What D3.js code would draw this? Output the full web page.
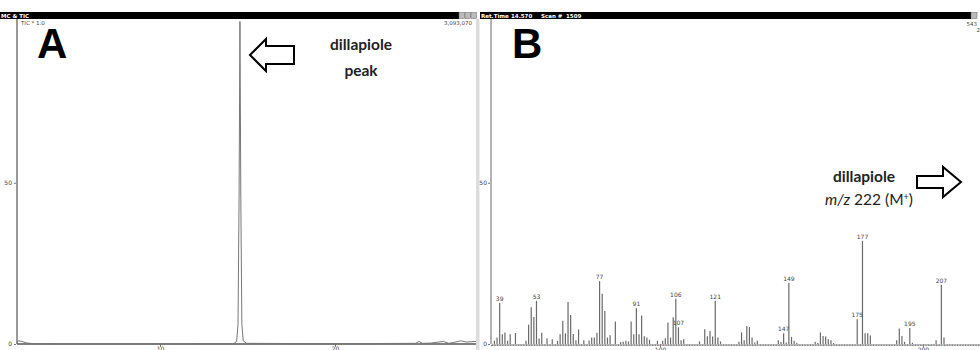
<!DOCTYPE html>
<meta charset="utf-8">
<script src="https://d3js.org/d3.v7.min.js"></script>
<style>
  body { margin: 0; background: #fff; }
  .tick text { font-family: 'DejaVu Sans', sans-serif; font-size: 6px; fill: #444; }
  .tick line { stroke: #777; }
  .small { font-family: 'DejaVu Sans', sans-serif; font-size: 6px; fill: #444; }
  .bar { font-family: 'DejaVu Sans', sans-serif; font-size: 5.5px; font-weight: bold; fill: #fff; }
  .note { font-family: 'Lato', sans-serif; font-size: 15.5px; fill: #222; }
</style>
<body>
<div id="chart"></div>
<script>

// TIC chromatogram (panel A), time in minutes, intensity in %
var ticTime = [1.83, 1.9, 2.1, 2.4, 2.8, 5, 10, 14.2, 14.38, 14.46, 14.52, 14.57, 14.62, 14.68, 14.76, 14.95, 20, 24.6, 24.8, 25.0, 25.5, 26.2, 26.5, 26.8, 27.2, 27.5, 28.06];
var ticValue = [0.3, 1.0, 0.8, 0.3, 0.1, 0.05, 0.05, 0.1, 0.8, 6, 45, 100, 45, 6, 1.0, 0.2, 0.1, 0.2, 0.8, 0.2, 0.3, 0.8, 0.2, 0.5, 1.0, 0.6, 0.8];

// mass spectrum (panel B), m/z and relative abundance in %
var mz = [37,38,39,40,41,42,43,45,49,50,51,52,53,54,55,57,59,61,62,63,64,65,66,67,68,69,71,73,74,75,76,77,78,79,80,81,83,85,86,87,88,89,90,91,92,93,94,95,96,99,101,102,103,104,105,106,107,108,109,115,117,118,119,120,121,122,123,130,131,132,133,134,135,136,137,145,146,147,148,149,150,151,152,159,160,161,162,163,164,165,166,175,177,178,179,180,190,191,192,193,195,196,205,207,208];
var abundance = [1.0,2.0,12.7,3.0,3.6,1.0,3.0,3.4,1.0,6.0,11.4,8.4,13.4,1.7,3.5,1.8,1.5,1.0,3.0,7.2,3.3,13.0,9.0,3.1,1.2,4.5,1.2,1.1,2.0,2.0,3.5,19.5,15.6,10.2,2.0,2.7,7.0,0.6,0.7,1.0,0.8,7.0,3.0,11.1,3.0,8.8,2.4,2.0,1.3,1.0,1.0,1.8,6.7,2.0,8.3,14.0,5.2,1.2,1.5,0.8,4.6,2.4,4.0,2.3,13.4,2.0,0.8,0.7,3.6,1.2,5.6,5.3,2.0,0.5,1.0,1.2,0.6,3.3,0.5,19.0,2.2,1.0,0.4,0.7,0.3,3.6,2.5,2.3,1.5,1.2,0.3,7.7,32.0,3.3,3.3,2.6,1.2,4.8,2.5,0.7,5.0,0.4,1.2,18.4,2.0];
var labelled = [39, 53, 77, 91, 106, 107, 121, 147, 149, 175, 177, 195, 207];

var yTicks = [0, 50];
var timeTicks = [10, 20];
var mzTicks = [100, 200];

var W = 980, H = 350;
var svg = d3.select("#chart").append("svg")
  .attr("width", W).attr("height", H);

// scales
var xT = d3.scaleLinear().domain([1.83, 28.06]).range([17, 476]);
var xM = d3.scaleLinear().domain([35.7, 221.7]).range([491, 980]);
var y = d3.scaleLinear().domain([0, 100]).range([344, 21.5]);

// title bars
svg.append("rect").attr("x", 0).attr("y", 12).attr("width", 459).attr("height", 7).attr("fill", "#000");
svg.append("rect").attr("x", 480).attr("y", 12).attr("width", 491).attr("height", 7).attr("fill", "#000");
[459, 465, 471].forEach(function(bx) {
  svg.append("rect").attr("x", bx).attr("y", 12.5).attr("width", 5.5).attr("height", 6)
    .attr("fill", "#bbb").attr("stroke", "#666").attr("stroke-width", 0.5);
});
svg.append("rect").attr("x", 971).attr("y", 12.5).attr("width", 6).attr("height", 6)
  .attr("fill", "#bbb").attr("stroke", "#666").attr("stroke-width", 0.5);
svg.append("text").attr("class", "bar").attr("x", 1).attr("y", 17.5).text("MC & TIC");
svg.append("text").attr("class", "bar").attr("x", 481).attr("y", 17.5).text("Ret.Time");
svg.append("text").attr("class", "bar").attr("x", 511).attr("y", 17.5).text("14.570");
svg.append("text").attr("class", "bar").attr("x", 541).attr("y", 17.5).text("Scan #");
svg.append("text").attr("class", "bar").attr("x", 566).attr("y", 17.5).text("1509");

// grey separator strip
svg.append("rect").attr("x", 476).attr("y", 19).attr("width", 3.5).attr("height", 331).attr("fill", "#ddd");

// panel A
svg.append("text").attr("class", "small").attr("x", 21).attr("y", 24.5).style("font-size", "5.5px").text("TIC * 1.0");
svg.append("text").attr("class", "small").attr("x", 472).attr("y", 25).style("font-size", "5.5px")
  .attr("text-anchor", "end").text("3,093,070");

var axL = svg.append("g").attr("transform", "translate(16,0)")
  .call(d3.axisLeft(y).tickValues(yTicks).tickSize(2).tickPadding(2));
axL.select(".domain").remove();
svg.append("line").attr("x1", 17).attr("x2", 17).attr("y1", 19).attr("y2", 344)
  .attr("stroke", "#999").attr("stroke-width", 2);

var axB = svg.append("g").attr("transform", "translate(0,344)")
  .call(d3.axisBottom(xT).tickValues(timeTicks).tickSize(3).tickPadding(0));
axB.select(".domain").remove();
svg.append("line").attr("x1", 17).attr("x2", 476).attr("y1", 344).attr("y2", 344)
  .attr("stroke", "#555").attr("stroke-width", 1.5);

var tic = ticTime.map(function(t, i) { return [t, ticValue[i]]; });
svg.append("path").datum(tic)
  .attr("fill", "none").attr("stroke", "#777").attr("stroke-width", 1)
  .attr("d", d3.line().x(function(d) { return xT(d[0]); }).y(function(d) { return y(d[1]); }));

// panel B
var axR = svg.append("g").attr("transform", "translate(490,0)")
  .call(d3.axisLeft(y).tickValues(yTicks).tickSize(2).tickPadding(1));
axR.select(".domain").remove();
svg.append("line").attr("x1", 491).attr("x2", 491).attr("y1", 19).attr("y2", 344)
  .attr("stroke", "#999").attr("stroke-width", 1.5);

var minor = d3.range(36, 222);
var axM = svg.append("g").attr("transform", "translate(0,344.5)")
  .call(d3.axisBottom(xM).tickValues(minor).tickSize(1.5).tickFormat(""));
axM.select(".domain").attr("stroke", "#888");
var axM2 = svg.append("g").attr("transform", "translate(0,344.5)")
  .call(d3.axisBottom(xM).tickValues(mzTicks).tickSize(3).tickPadding(0));
axM2.select(".domain").remove();

svg.append("g").selectAll("line")
  .data(mz)
  .enter().append("line")
    .attr("x1", function(d) { return xM(d); })
    .attr("x2", function(d) { return xM(d); })
    .attr("y1", y(0))
    .attr("y2", function(d, i) { return y(abundance[i]); })
    .attr("stroke", "#6a6a6a").attr("stroke-width", 1.2);

svg.append("g").selectAll("text")
  .data(labelled)
  .enter().append("text")
    .attr("class", "small")
    .attr("text-anchor", "middle")
    .attr("x", function(d) { return xM(d); })
    .attr("y", function(d) { return y(abundance[mz.indexOf(d)]) - 2; })
    .text(function(d) { return d; });

svg.append("text").attr("class", "small").attr("x", 977).attr("y", 26).style("font-size", "5.5px")
  .attr("text-anchor", "end").text("543");
svg.append("text").attr("class", "small").attr("x", 980).attr("y", 32).style("font-size", "5.5px")
  .attr("text-anchor", "end").text("2");

// panel letters
svg.append("text").attr("x", 37).attr("y", 58)
  .style("font-family", "'Liberation Sans', Arial, sans-serif").style("font-weight", "bold").style("font-size", "42px")
  .text("A");
svg.append("text").attr("x", 512).attr("y", 58)
  .style("font-family", "'Liberation Sans', Arial, sans-serif").style("font-weight", "bold").style("font-size", "42px")
  .text("B");

// annotations
svg.append("path")
  .attr("d", "M250,55 L266,39 L266,46 L294,46 L294,64 L266,64 L266,71 Z")
  .attr("fill", "#fff").attr("stroke", "#000").attr("stroke-width", 2).attr("stroke-linejoin", "miter");
svg.append("text").attr("class", "note").attr("x", 361).attr("y", 50).attr("text-anchor", "middle")
  .style("font-weight", "bold").text("dillapiole");
svg.append("text").attr("class", "note").attr("x", 361).attr("y", 76).attr("text-anchor", "middle")
  .style("font-weight", "bold").text("peak");

svg.append("path")
  .attr("d", "M961,182 L943,167 L943,176 L917,176 L917,188 L943,188 L943,197 Z")
  .attr("fill", "#fff").attr("stroke", "#000").attr("stroke-width", 2);
svg.append("text").attr("class", "note").attr("x", 864).attr("y", 182).attr("text-anchor", "middle")
  .style("font-weight", "bold").text("dillapiole");
var t2 = svg.append("text").attr("class", "note").attr("x", 869).attr("y", 205).attr("text-anchor", "middle");
t2.append("tspan").style("font-style", "italic").text("m/z");
t2.append("tspan").text(" 222 (M");
t2.append("tspan").attr("dy", -5).style("font-size", "9px").text("+");
t2.append("tspan").attr("dy", 5).text(")");

</script>
</body>
